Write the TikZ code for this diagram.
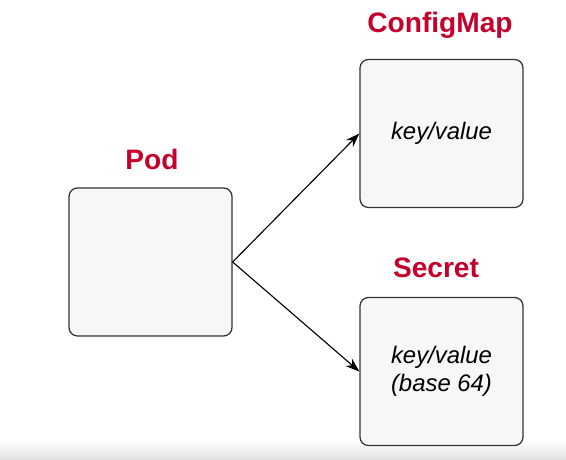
\documentclass[tikz,border=0pt]{standalone}
\usepackage{fontspec}
\setmainfont{Liberation Sans}
\usetikzlibrary{arrows.meta,positioning}

\definecolor{titlered}{HTML}{C4002B}
\definecolor{boxfill}{HTML}{F7F7F7}
\definecolor{boxline}{HTML}{333333}

\tikzset{
  objbox/.style={draw=boxline, fill=boxfill, line width=0.9pt, rounded corners=6pt,
    minimum width=4.075cm, minimum height=3.7cm, inner sep=0pt, align=center,
    font=\fontsize{17}{20}\selectfont\itshape},
  objtitle/.style={text=titlered, anchor=base, font=\fontsize{20}{24}\selectfont\bfseries},
  link/.style={-{Stealth[length=10pt,width=7pt]}, line width=0.8pt}
}

\begin{document}
\begin{tikzpicture}
    \useasboundingbox (0, 0) rectangle (14.15, 11.5);
    \shade [top color=white, bottom color=black!12] (0, 0) rectangle (14.15, 0.5);

    % boxes
    \node [objbox] (pod) at (3.7625, 4.95) {};
    \node [objbox] (configmap) at (11.0375, 8.1625) {key/value};
    \node [objbox] (secret) at (11.0375, 2.2125) {key/value\\(base 64)};

    % titles
    \node [objtitle] (podtitle) at (3.8, 7.27) {Pod};
    \node [objtitle] (configmaptitle) at (11.0, 10.675) {ConfigMap};
    \node [objtitle] (secrettitle) at (10.9, 4.55) {Secret};

    % links
    \draw [link] (pod.east) -- (configmap.west);
    \draw [link] (pod.east) -- (secret.west);
\end{tikzpicture}
\end{document}
